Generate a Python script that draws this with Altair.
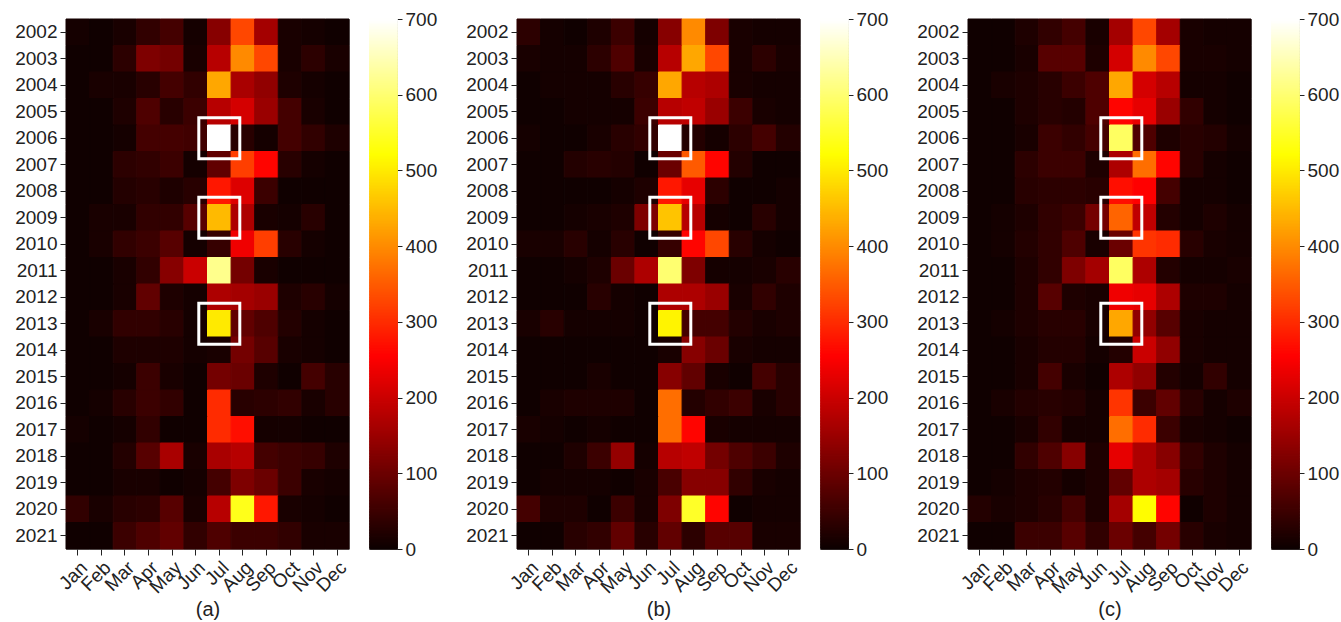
import altair as alt
import pandas as pd

years = list(range(2002, 2022))
months = ["Jan", "Feb", "Mar", "Apr", "May", "Jun", "Jul", "Aug", "Sep", "Oct", "Nov", "Dec"]

vals_a = [
    [10, 5, 15, 40, 60, 10, 130, 330, 160, 15, 10, 5],
    [5, 5, 35, 120, 110, 15, 180, 400, 330, 15, 35, 15],
    [5, 15, 15, 30, 60, 40, 430, 165, 140, 20, 10, 5],
    [5, 5, 20, 70, 30, 50, 180, 210, 150, 60, 15, 5],
    [5, 5, 10, 60, 60, 55, 700, 30, 10, 60, 40, 20],
    [5, 5, 35, 40, 50, 10, 90, 320, 260, 30, 10, 5],
    [5, 5, 25, 30, 20, 30, 280, 220, 50, 5, 5, 5],
    [5, 15, 15, 40, 40, 80, 450, 170, 15, 10, 30, 5],
    [5, 15, 40, 50, 80, 10, 45, 240, 320, 30, 10, 5],
    [5, 5, 15, 40, 130, 200, 620, 110, 15, 5, 5, 5],
    [5, 5, 15, 90, 20, 10, 170, 160, 150, 20, 30, 10],
    [5, 15, 40, 40, 30, 10, 500, 90, 70, 25, 10, 5],
    [5, 5, 20, 20, 20, 10, 15, 110, 80, 15, 10, 5],
    [5, 5, 10, 50, 15, 5, 110, 100, 20, 5, 60, 30],
    [5, 10, 30, 50, 40, 5, 300, 30, 35, 40, 15, 30],
    [10, 5, 10, 40, 5, 5, 300, 270, 10, 10, 5, 5],
    [5, 5, 25, 80, 165, 15, 165, 180, 60, 50, 45, 20],
    [5, 5, 15, 15, 5, 10, 60, 120, 100, 50, 15, 10],
    [40, 15, 30, 35, 80, 15, 180, 540, 280, 15, 10, 5],
    [5, 5, 50, 70, 90, 40, 70, 50, 50, 40, 15, 15],
]

vals_b = [
    [35, 10, 5, 20, 50, 10, 130, 400, 120, 15, 10, 10],
    [15, 10, 10, 35, 70, 15, 180, 430, 330, 15, 35, 15],
    [5, 10, 10, 10, 30, 45, 430, 180, 170, 15, 10, 10],
    [5, 5, 10, 10, 10, 50, 180, 190, 150, 50, 15, 10],
    [10, 5, 5, 15, 30, 40, 700, 25, 10, 35, 60, 25],
    [5, 5, 25, 30, 25, 5, 100, 350, 260, 25, 5, 5],
    [5, 5, 5, 5, 10, 20, 280, 230, 35, 5, 5, 10],
    [5, 5, 10, 15, 20, 120, 460, 180, 10, 5, 30, 10],
    [15, 15, 30, 10, 30, 5, 45, 260, 330, 30, 10, 5],
    [5, 5, 10, 20, 100, 170, 600, 120, 10, 10, 15, 30],
    [5, 5, 5, 30, 10, 5, 170, 170, 150, 15, 40, 20],
    [15, 30, 10, 10, 10, 5, 510, 60, 60, 25, 15, 20],
    [5, 5, 5, 5, 5, 5, 15, 130, 100, 15, 10, 10],
    [5, 5, 5, 15, 5, 5, 130, 90, 15, 5, 60, 30],
    [5, 15, 20, 20, 20, 5, 370, 25, 40, 50, 15, 30],
    [15, 10, 5, 10, 5, 5, 370, 260, 15, 10, 10, 10],
    [5, 5, 20, 50, 145, 10, 180, 190, 110, 70, 50, 20],
    [5, 10, 10, 10, 5, 15, 65, 130, 130, 40, 15, 10],
    [60, 20, 20, 5, 50, 15, 120, 550, 260, 5, 10, 10],
    [5, 5, 30, 40, 90, 30, 90, 35, 80, 80, 15, 15],
]

vals_c = [
    [5, 5, 20, 40, 60, 15, 160, 330, 160, 15, 10, 10],
    [5, 5, 15, 80, 80, 20, 210, 400, 330, 15, 15, 10],
    [5, 15, 20, 30, 50, 70, 430, 210, 180, 10, 10, 5],
    [5, 5, 20, 30, 25, 70, 260, 230, 150, 40, 10, 5],
    [5, 5, 15, 50, 40, 60, 590, 70, 20, 30, 25, 10],
    [5, 5, 35, 50, 50, 20, 170, 370, 260, 30, 10, 5],
    [5, 5, 30, 35, 35, 30, 270, 255, 60, 10, 10, 5],
    [5, 10, 20, 40, 50, 110, 360, 190, 25, 10, 20, 10],
    [5, 10, 25, 40, 70, 15, 100, 310, 300, 30, 15, 10],
    [5, 5, 20, 40, 120, 160, 590, 170, 25, 10, 10, 15],
    [5, 5, 20, 80, 20, 15, 240, 230, 170, 20, 20, 10],
    [5, 10, 20, 30, 30, 15, 430, 140, 80, 15, 10, 10],
    [5, 5, 15, 25, 25, 10, 25, 200, 140, 15, 10, 10],
    [5, 5, 15, 60, 15, 5, 170, 140, 25, 10, 40, 10],
    [5, 15, 25, 30, 25, 10, 310, 50, 90, 30, 10, 20],
    [5, 5, 15, 40, 10, 10, 370, 300, 50, 15, 10, 5],
    [5, 5, 40, 70, 130, 20, 230, 170, 130, 40, 20, 10],
    [5, 10, 20, 25, 10, 20, 90, 170, 160, 30, 20, 10],
    [25, 15, 20, 30, 60, 20, 160, 520, 260, 5, 20, 10],
    [5, 5, 50, 50, 80, 40, 100, 60, 110, 30, 15, 10],
]

box_months = ["Jul", "Jul", "Jul"]
box_years = [2006, 2009, 2013]

captions = ["(a)", "(b)", "(c)"]

# 'hot' colour map stops
cmap_domain = [0, 255.5, 522, 700]
cmap_range = ["#0b0000", "#ff0000", "#ffff00", "#ffffff"]
colorbar_ticks = [0, 100, 200, 300, 400, 500, 600, 700]
colorbar_max = 700
colorbar_step = 2

FONT = "Liberation Sans"
TXT = "#222222"

cscale = alt.Scale(domain=cmap_domain, range=cmap_range, interpolate="rgb", clamp=True)


def heat_panel(vals, caption):
    rows = []
    for yi, yr in enumerate(years):
        for mi, mo in enumerate(months):
            rows.append({"year": str(yr), "month": mo, "value": vals[yi][mi]})
    df = pd.DataFrame(rows)
    bdf = pd.DataFrame({"year": [str(y) for y in box_years], "month": box_months})
    year_sort = [str(y) for y in years]
    xenc = alt.X("month:O", sort=months,
                 scale=alt.Scale(paddingInner=0, paddingOuter=0),
                 axis=alt.Axis(title=caption, labelAngle=315, titleFontSize=20,
                               titlePadding=3, titleFontWeight="normal"))
    yenc = alt.Y("year:O", sort=year_sort,
                 scale=alt.Scale(paddingInner=0, paddingOuter=0),
                 axis=alt.Axis(title=None))
    heat = alt.Chart(df).mark_rect(strokeWidth=1).encode(
        x=xenc, y=yenc,
        color=alt.Color("value:Q", scale=cscale, legend=None),
        stroke=alt.Stroke("value:Q", scale=cscale, legend=None),
    )
    boxes = alt.Chart(bdf).mark_point(shape="square", size=1681, filled=False,
                                      stroke="white", strokeWidth=3, opacity=1).encode(
        x=alt.X("month:O", sort=months), y=alt.Y("year:O", sort=year_sort)
    )
    return alt.layer(heat, boxes).properties(width=283, height=530)


def colorbar():
    lo = list(range(0, colorbar_max, colorbar_step))
    cdf = pd.DataFrame({"lo": lo, "hi": [v + colorbar_step for v in lo],
                        "mid": [v + colorbar_step / 2 for v in lo]})
    return alt.Chart(cdf).mark_rect(strokeWidth=1.5).encode(
        y=alt.Y("lo:Q", scale=alt.Scale(domain=[0, colorbar_max], nice=False, zero=True),
                axis=alt.Axis(orient="right", values=colorbar_ticks, title=None,
                              tickSize=5, labelPadding=3, grid=False, domain=False,
                              labelFlush=False)),
        y2="hi:Q",
        color=alt.Color("mid:Q", scale=cscale, legend=None),
        stroke=alt.Stroke("mid:Q", scale=cscale, legend=None),
    ).properties(width=27, height=530)


def group(vals, caption):
    return alt.hconcat(heat_panel(vals, caption), colorbar(), spacing=17)


chart = alt.hconcat(
    group(vals_a, captions[0]), group(vals_b, captions[1]), group(vals_c, captions[2]),
    spacing=27,
).properties(
    padding={"left": 14, "top": 9, "right": 0, "bottom": 1}
).configure_view(stroke="#888888", strokeWidth=1).configure_axis(
    labelFont=FONT, titleFont=FONT,
    labelFontSize=19, labelColor=TXT, titleColor=TXT,
    tickColor=TXT, tickSize=6, labelPadding=3, domain=False, grid=False,
)

chart.save("out.html", embed_options={"renderer": "svg", "actions": False})
